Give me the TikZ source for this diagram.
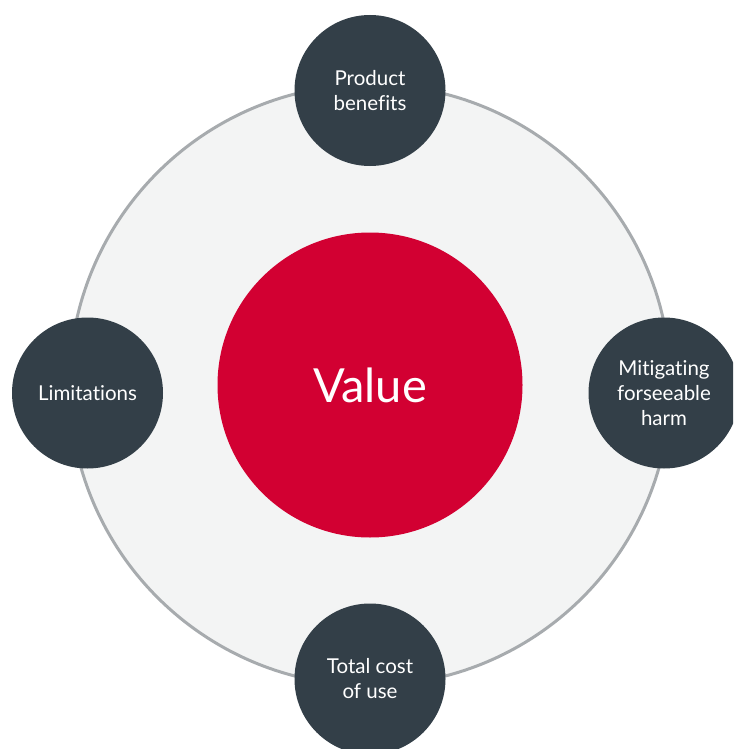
\documentclass[tikz,border=0pt]{standalone}
\usepackage{fontspec}
\setmainfont{Lato}[Ligatures=NoCommon]
\definecolor{bggray}{HTML}{F3F4F4}
\definecolor{ringgray}{HTML}{A7ABAE}
\definecolor{darkslate}{HTML}{333F48}
\definecolor{valred}{HTML}{D20032}
\begin{document}
\begin{tikzpicture}[x=1pt,y=-1pt,
  ringstyle/.style={circle, inner sep=0pt, outer sep=0pt, minimum size=601pt, draw=ringgray, line width=3pt, fill=bggray},
  itemstyle/.style={circle, inner sep=0pt, outer sep=0pt, minimum size=151pt, fill=darkslate, text=white, align=center, font=\fontsize{20.5}{25}\selectfont},
  valuestyle/.style={circle, inner sep=0pt, outer sep=0pt, minimum size=305pt, fill=valred, text=white, font=\fontsize{47}{52}\selectfont}]
\useasboundingbox (0,0) rectangle (733,749);
\clip (0,0) rectangle (733,749);
\node[ringstyle] (ring) at (370,385) {};
\node[valuestyle] (value) at (370,385) {Value};
\node[itemstyle] (benefits) at (370,90.5) {Product\\benefits};
\node[itemstyle] (limits) at (87.5,393) {Limitations};
\node[itemstyle] (harm) at (664,393) {Mitigating\\forseeable\\harm};
\node[itemstyle] (cost) at (370,679) {Total cost\\of use};
\end{tikzpicture}
\end{document}
